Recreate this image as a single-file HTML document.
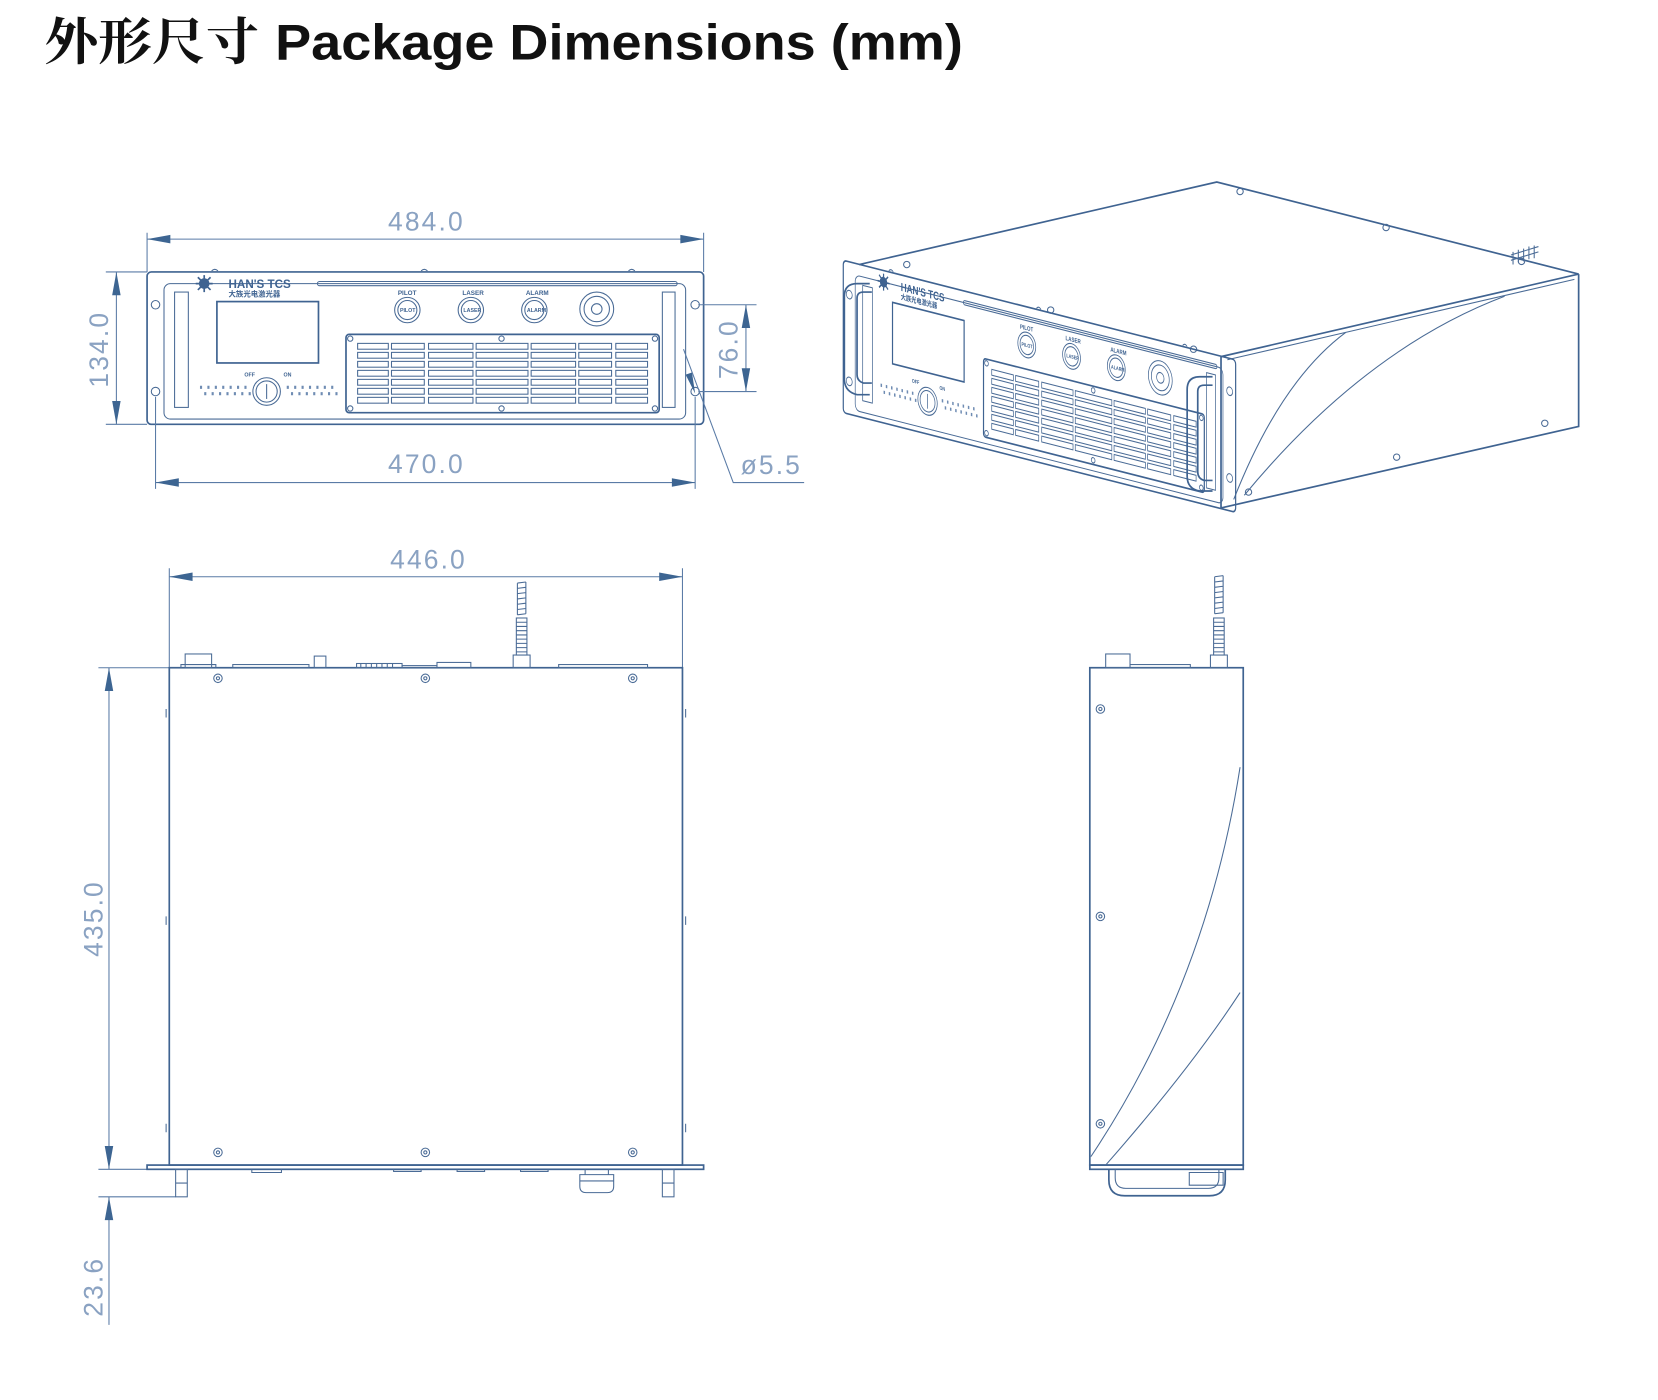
<!DOCTYPE html>
<html><head><meta charset="utf-8"><style>
html,body{margin:0;padding:0;background:#fff;}
svg{display:block;}
.l{fill:none;stroke:#4a6b96;stroke-width:1;}
.t{fill:none;stroke:#3f6391;stroke-width:1.6;}
.d{fill:none;stroke:#5a7ba6;stroke-width:1;}
.a{fill:#3d6592;stroke:none;}
.dt{font-family:"Liberation Sans",sans-serif;font-size:25px;fill:#8aa2c2;letter-spacing:2px;font-weight:normal;}
.sm{font-family:"Liberation Sans",sans-serif;font-weight:bold;fill:#3f6391;}
</style></head><body>
<svg width="1658" height="1400" viewBox="0 0 1567 1323" preserveAspectRatio="none" xmlns="http://www.w3.org/2000/svg">
<text x="42" y="56" textLength="203" lengthAdjust="spacingAndGlyphs" style="font-family:'Noto Serif CJK SC','Liberation Serif',serif;font-size:48px;font-weight:bold;fill:#111">外形尺寸</text>
<text x="260" y="56" textLength="650" lengthAdjust="spacingAndGlyphs" style="font-family:'Liberation Sans',sans-serif;font-weight:bold;font-size:47px;fill:#111">Package Dimensions (mm)</text>

<defs>
<g id="front">
  <rect class="t" x="139" y="257" width="526" height="144" rx="4"/>
  <rect class="l" x="155" y="268" width="493" height="128" rx="6"/>
  <rect class="l" x="165" y="276" width="13" height="109"/>
  <rect class="l" x="626" y="276" width="12" height="109"/>
  <rect class="l" x="143" y="284" width="8" height="8" rx="4"/>
  <rect class="l" x="653" y="284" width="8" height="8" rx="4"/>
  <circle class="l" cx="147" cy="370" r="4"/><circle class="l" cx="657" cy="370" r="4"/>
  <path class="l" d="M200 256q3-3 6 0M398 256q3-3 6 0M594 256q3-3 6 0"/>
  <circle cx="193" cy="268" r="5" fill="#3f6391"/>
  <path class="t" d="M185 268h16M193 260v16M187 262l12 12M199 262l-12 12"/>
  <text x="216" y="272" class="sm" style="font-size:11px">HAN'S TCS</text>
  <text x="216" y="280" class="sm" style="font-size:7px;font-family:'Noto Sans CJK SC',sans-serif">大族光电激光器</text>
  <rect class="l" x="300" y="266" width="340" height="4" rx="2"/>
  <rect class="t" x="205" y="285" width="96" height="58"/>
  <text x="231" y="356" class="sm" style="font-size:5px">OFF</text><text x="268" y="356" class="sm" style="font-size:5px">ON</text>
  <circle class="l" cx="252" cy="370" r="13"/><circle class="l" cx="252" cy="370" r="10"/><path class="l" d="M252 363v14"/>
  <g class="l">
   <path d="M189 366h44M193 372h44M271 366h46M275 372h44" stroke-dasharray="2 5" stroke-width="3" stroke="#6f8cb3"/>
  </g>
  <g class="l">
   <circle cx="385" cy="293" r="12"/><circle cx="385" cy="293" r="9"/>
   <circle cx="445" cy="293" r="12"/><circle cx="445" cy="293" r="9"/>
   <circle cx="505" cy="293" r="12"/><circle cx="505" cy="293" r="9"/>
   <circle cx="564" cy="292" r="16"/><circle cx="564" cy="292" r="12"/><circle cx="564" cy="292" r="5"/>
  </g>
  <text x="376" y="279" class="sm" style="font-size:6px">PILOT</text>
  <text x="437" y="279" class="sm" style="font-size:6px">LASER</text>
  <text x="497" y="279" class="sm" style="font-size:6px">ALARM</text>
  <text x="378" y="295" class="sm" style="font-size:5px">PILOT</text>
  <text x="438" y="295" class="sm" style="font-size:5px">LASER</text>
  <text x="498" y="295" class="sm" style="font-size:5px">ALARM</text>
  <rect class="t" x="327" y="316" width="296" height="74" rx="3"/>
  <g class="l">
   <circle cx="331" cy="320" r="2.5"/><circle cx="474" cy="320" r="2.5"/><circle cx="619" cy="320" r="2.5"/>
   <circle cx="331" cy="386" r="2.5"/><circle cx="474" cy="386" r="2.5"/><circle cx="619" cy="386" r="2.5"/>
  </g>
  <g class="l" id="slots">
   <rect x="338" y="324.5" width="29" height="5.5"/><rect x="370" y="324.5" width="31" height="5.5"/><rect x="405" y="324.5" width="42" height="5.5"/><rect x="450" y="324.5" width="49" height="5.5"/><rect x="502" y="324.5" width="42" height="5.5"/><rect x="547" y="324.5" width="31" height="5.5"/><rect x="582" y="324.5" width="30" height="5.5"/>
  </g>
  <use href="#slots" y="8.5"/><use href="#slots" y="17"/><use href="#slots" y="25.5"/><use href="#slots" y="34"/><use href="#slots" y="42.5"/><use href="#slots" y="51"/>
</g>
<g id="scr"><circle class="l" cx="0" cy="0" r="4"/><circle class="l" cx="0" cy="0" r="1.5"/></g>
</defs>

<!-- front view -->
<use href="#front"/>
<g class="d">
 <path d="M139 220v37M665 220v37M139 226h526"/>
 <path d="M100 257h39M100 401h39M110 257v144"/>
 <path d="M660 288h55M660 370h55M705 288v82"/>
 <path d="M147 375v87M657 375v87M147 456h510"/>
 <path d="M646 330L693 456H760"/>
</g>
<g class="a">
 <path d="M139 226l22-4v8zM665 226l-22-4v8z"/>
 <path d="M110 257l-4 22h8zM110 401l-4-22h8z"/>
 <path d="M705 288l-4 22h8zM705 370l-4-22h8z"/>
 <path d="M147 456l22-4v8zM657 456l-22-4v8z"/>
 <path d="M657 372l-9-18 6-2z"/>
</g>
<text class="dt" x="403" y="218" text-anchor="middle">484.0</text>
<text class="dt" x="403" y="447" text-anchor="middle">470.0</text>
<text class="dt" x="700" y="448">ø5.5</text>
<text class="dt" transform="translate(102 330) rotate(-90)" text-anchor="middle">134.0</text>
<text class="dt" transform="translate(697 330) rotate(-90)" text-anchor="middle">76.0</text>

<!-- isometric view -->
<g class="t">
 <path d="M812 250L1150 172L1492 259L1154 337"/>
 <path d="M1154 337L1154 480L1492 403L1492 259"/>
</g>
<g class="l">
 <path d="M1166 472Q1210 360 1272 314"/>
 <path d="M1176 468Q1290 330 1422 280"/>
 <path d="M1160 340L1488 264"/>
 <circle cx="1172" cy="181" r="3"/><circle cx="1310" cy="215" r="3"/><circle cx="1438" cy="247" r="3"/>
 <circle cx="857" cy="250" r="3"/><circle cx="993" cy="293" r="3"/><circle cx="1128" cy="330" r="3"/>
 <circle cx="1460" cy="400" r="3"/><circle cx="1320" cy="432" r="3"/><circle cx="1180" cy="465" r="3"/>
 <path d="M1428 246l26-8M1428 241l26-8M1430 250v-12M1435 248v-12M1440 247v-12M1445 245v-12M1450 244v-12"/>
</g>
<use href="#front" transform="matrix(0.705 0.179 0 1 699 -35.9)"/>
<g class="t">
 <path d="M822 268h-12q-12 0-12 12v78q0 12 12 15h12"/>
 <path d="M824 276h-8q-6 0-6 6v72q0 6 6 8h8"/>
 <path d="M1146 356h-12q-12 0-12 12v82q0 12 12 14h12"/>
 <path d="M1146 364h-8q-6 0-6 6v76q0 6 6 8h8"/>
</g>

<!-- top view -->
<g class="d">
 <path d="M160 537v94M645 537v94M160 545h485"/>
 <path d="M93 631h67M93 1105h46M103 631v474M93 1131h73M103 1131v121"/>
</g>
<g class="a">
 <path d="M160 545l22-4v8zM645 545l-22-4v8z"/>
 <path d="M103 631l-4 22h8zM103 1105l-4-22h8zM103 1131l-4 22h8z"/>
</g>
<text class="dt" x="405" y="537" text-anchor="middle">446.0</text>
<text class="dt" transform="translate(97 868) rotate(-90)" text-anchor="middle">435.0</text>
<text class="dt" transform="translate(97 1216) rotate(-90)" text-anchor="middle">23.6</text>
<g class="t">
 <rect x="160" y="631" width="485" height="470"/>
 <rect x="139" y="1101" width="526" height="4"/>
</g>
<g class="l">
 <rect x="175" y="618" width="25" height="13"/><path d="M171 631v-3h33v3"/>
 <rect x="220" y="628" width="72" height="3"/><rect x="297" y="620" width="11" height="11"/>
 <rect x="337" y="627" width="43" height="4"/><path d="M341 627v4M346 627v4M351 627v4M356 627v4M361 627v4M366 627v4M371 627v4"/>
 <rect x="380" y="629" width="33" height="2"/><rect x="413" y="626" width="32" height="5"/>
 <rect x="528" y="628" width="84" height="3"/>
 <rect x="485" y="619" width="16" height="12"/><rect x="488" y="584" width="10" height="35"/>
 <path d="M489 551l8-1M489 556l8-1M489 561l8-1M489 566l8-1M489 571l8-1M489 576l8-1M489 581l8-1M489 551v30M497 550v30"/>
 <path d="M488 588h10M488 592h10M488 596h10M488 600h10M488 604h10M488 608h10M488 612h10M488 616h10"/>
 <path d="M157 670v8M157 866v8M157 1062v8M648 670v8M648 866v8M648 1062v8"/>
 <rect x="166" y="1105" width="11" height="26"/><rect x="626" y="1105" width="11" height="26"/>
 <path d="M166 1118h11M626 1118h11"/>
 <path d="M238 1105v3h28v-3M372 1105v2h26v-2M432 1105v2h26v-2M492 1105v2h26v-2"/>
 <path d="M548 1110h32v11q0 6-6 6h-20q-6 0-6-6zM548 1116h32M553 1105v5M575 1105v5"/>
</g>
<use href="#scr" x="206" y="641"/><use href="#scr" x="402" y="641"/><use href="#scr" x="598" y="641"/>
<use href="#scr" x="206" y="1089"/><use href="#scr" x="402" y="1089"/><use href="#scr" x="598" y="1089"/>

<!-- side view -->
<g class="t">
 <rect x="1030" y="631" width="145" height="470"/>
 <rect x="1030" y="1101" width="145" height="4"/>
 <path d="M1048 1105v10q0 15 15 15h80q15 0 15-15v-10"/>
</g>
<g class="l">
 <path d="M1054 1105v8q0 10 10 10h78q10 0 10-10v-8"/>
 <rect x="1045" y="618" width="23" height="13"/><rect x="1068" y="628" width="57" height="3"/>
 <rect x="1144" y="619" width="16" height="12"/><rect x="1147" y="584" width="10" height="35"/>
 <path d="M1148 545l8-1M1148 550l8-1M1148 555l8-1M1148 560l8-1M1148 565l8-1M1148 570l8-1M1148 575l8-1M1148 580l8-1M1148 545v35M1156 544v35"/>
 <path d="M1147 588h10M1147 592h10M1147 596h10M1147 600h10M1147 604h10M1147 608h10M1147 612h10M1147 616h10"/>
 <path d="M1031 1093Q1140 930 1172 725"/>
 <path d="M1045 1101Q1125 1010 1172 938"/>
 <path d="M1124 1108h32v12h-32z"/>
</g>
<use href="#scr" x="1040" y="670"/><use href="#scr" x="1040" y="866"/><use href="#scr" x="1040" y="1062"/>
</svg>
</body></html>
